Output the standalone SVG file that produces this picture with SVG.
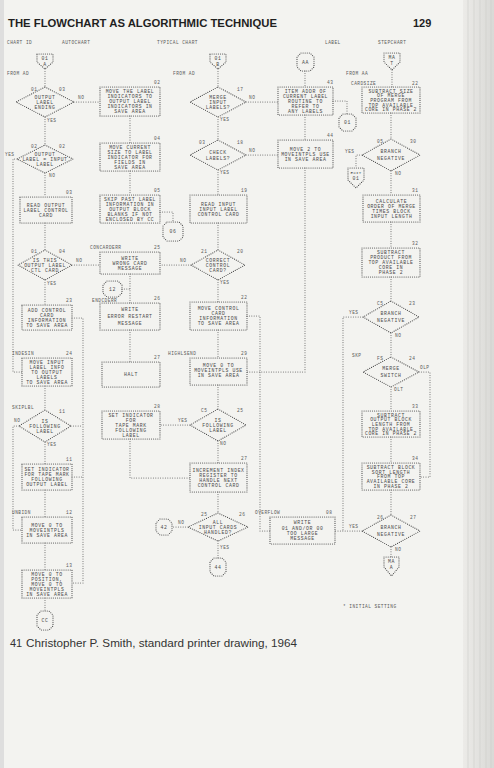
<svg xmlns="http://www.w3.org/2000/svg" width="494" height="768" viewBox="0 0 494 768">
<defs>
<style>
.bx{fill:none;stroke:#4f4f4f;stroke-width:1.2;stroke-dasharray:0 2.1;stroke-linecap:round}
.ln{fill:none;stroke:#5e5e5e;stroke-width:1.05;stroke-dasharray:0 2.4;stroke-linecap:round}
.t{font-family:"Liberation Mono","DejaVu Sans Mono",monospace;font-size:4.8px;letter-spacing:0.6px;fill:#4a4a4a;text-anchor:middle}
.s{font-family:"Liberation Mono","DejaVu Sans Mono",monospace;font-size:4.5px;letter-spacing:0.45px;fill:#5a5a5a}
.edge{stroke:#cdcdca;stroke-width:0.6}
</style>
<linearGradient id="pg" x1="0" y1="0" x2="1" y2="0">
<stop offset="0" stop-color="#ecebe8"/>
<stop offset="1" stop-color="#d9d9d6"/>
</linearGradient>
</defs>
<rect x="0" y="0" width="494" height="768" fill="#f3f3f0"/>
<rect x="0" y="0" width="4" height="768" fill="#dedede"/>
<rect x="463" y="0" width="31" height="768" fill="url(#pg)"/>
<g class="edge"><line x1="468" y1="0" x2="468" y2="768"/><line x1="474" y1="0" x2="474" y2="768"/><line x1="480" y1="0" x2="480" y2="768"/><line x1="486" y1="0" x2="486" y2="768"/><line x1="491" y1="0" x2="491" y2="768"/></g>

<g id="page-header">
<text x="8" y="27" font-family="Liberation Sans, Arial, sans-serif" font-weight="bold" font-size="11" fill="#1f1f1f" textLength="269" lengthAdjust="spacingAndGlyphs">THE FLOWCHART AS ALGORITHMIC TECHNIQUE</text>
<text x="413" y="27" font-family="Liberation Sans, Arial, sans-serif" font-weight="bold" font-size="11" fill="#1f1f1f">129</text>
<text class="s" x="7" y="44">CHART ID</text>
<text class="s" x="62" y="44">AUTOCHART</text>
<text class="s" x="157" y="44">TYPICAL CHART</text>
<text class="s" x="325" y="44">LABEL</text>
<text class="s" x="378" y="44">STEPCHART</text>
</g>

<g id="connectors">
<path class="ln" d="M45 69V87 M45 117V145 M74 102H100 M45 173V197 M17 159H13V372H22 M45 223V250 M72 265H100 M45 280V305 M72 318H83V583H72 M71 426H83 M72 477H83 M45 386V410 M19 426H13V530H22 M45 442V464 M45 490V517 M45 543V570 M45 598V611"/>
<path class="ln" d="M130 116V143 M130 171V195 M160 212H173V222 M130 274V303 M122 289H130 M130 330V362 M190 425H160 M130 439V478H190"/>
<path class="ln" d="M218 69V87 M246 102H278 M218 117V140 M246 155H278 M218 170V195 M218 223V250 M191 265H160 M218 280V302 M218 330V358 M247 316H260V531H270 M218 385V409 M218 441V463 M218 492V513 M188 527H172 M218 541V558"/>
<path class="ln" d="M305 71V87 M305 115V140 M333 101H347V114 M305 168V372H247"/>
<path class="ln" d="M392 70V87 M391 113V139 M362 155H356V168 M391 171V195 M391 222V248 M391 277V301 M363 317H343V531 M391 333V357 M419 372H430V477H420 M391 387V411 M391 437V463 M391 490V515 M362 531H335 M391 547V557"/>
</g>

<!-- column 1 -->
<g id="n-t1"><polygon class="bx" points="37,54 53,54 53,62 45,69 37,62"/><text class="t" x="45" y="60">01</text><text class="t" x="45" y="65.5">A</text></g>
<g id="lbl-fromad1"><text class="s" x="7" y="75">FROM AD</text></g>
<g id="n-d1"><polygon class="bx" points="45,87 74,102 45,117 16,102"/>
<text class="t" x="45" y="98.8">OUTPUT</text><text class="t" x="45" y="103.8">LABEL</text><text class="t" x="45" y="108.8">ENDING</text>
<text class="s" x="31" y="91">01</text><text class="s" x="59" y="91">03</text><text class="s" x="78" y="99">NO</text><text class="s" x="47" y="122">YES</text></g>
<g id="n-d2"><polygon class="bx" points="45,145 73,159 45,173 17,159"/>
<text class="t" x="45" y="155.8">OUTPUT</text><text class="t" x="45" y="160.8">LABEL = INPUT</text><text class="t" x="45" y="165.8">LABEL</text>
<text class="s" x="31" y="148">02</text><text class="s" x="59" y="148">02</text><text class="s" x="5" y="156">YES</text><text class="s" x="49" y="177">NO</text></g>
<g id="n-b03"><rect class="bx" x="20" y="197" width="52" height="26"/>
<text class="t" x="46" y="206.8">READ OUTPUT</text><text class="t" x="46" y="211.8">LABEL CONTROL</text><text class="t" x="46" y="216.8">CARD</text>
<text class="s" x="66" y="194">03</text></g>
<g id="n-d4"><polygon class="bx" points="45,250 72,265 45,280 18,265"/>
<text class="t" x="45" y="261.8">IS THIS</text><text class="t" x="45" y="266.8">OUTPUT LABEL</text><text class="t" x="45" y="271.8">CTL CARD</text>
<text class="s" x="31" y="253">01</text><text class="s" x="59" y="253">04</text><text class="s" x="76" y="262">NO</text><text class="s" x="47" y="285">YES</text></g>
<g id="n-b23"><rect class="bx" x="22" y="305" width="50" height="25"/>
<text class="t" x="47" y="311.8">ADD CONTROL</text><text class="t" x="47" y="316.8">CARD</text><text class="t" x="47" y="321.8">INFORMATION</text><text class="t" x="47" y="326.8">TO SAVE AREA</text>
<text class="s" x="66" y="302">23</text></g>
<g id="n-b24"><rect class="bx" x="22" y="358" width="50" height="28"/>
<text class="t" x="47" y="363.8">MOVE INPUT</text><text class="t" x="47" y="368.8">LABEL INFO</text><text class="t" x="47" y="373.8">TO OUTPUT</text><text class="t" x="47" y="378.8">LABELS</text><text class="t" x="47" y="383.8">TO SAVE AREA</text>
<text class="s" x="12" y="355">INDESIN</text><text class="s" x="66" y="355">24</text></g>
<g id="n-d3"><polygon class="bx" points="45,410 71,426 45,442 19,426"/>
<text class="t" x="45" y="422.8">IS</text><text class="t" x="45" y="427.8">FOLLOWING</text><text class="t" x="45" y="432.8">LABEL</text>
<text class="s" x="12" y="409">SKIPLBL</text><text class="s" x="59" y="413">11</text><text class="s" x="14" y="422">NO</text><text class="s" x="47" y="446">YES</text></g>
<g id="n-b11"><rect class="bx" x="22" y="464" width="50" height="26"/>
<text class="t" x="47" y="471.3">SET INDICATOR</text><text class="t" x="47" y="476.3">FOR TAPE MARK</text><text class="t" x="47" y="481.3">FOLLOWING</text><text class="t" x="47" y="486.3">OUTPUT LABEL</text>
<text class="s" x="66" y="461">11</text></g>
<g id="n-b12"><rect class="bx" x="22" y="517" width="50" height="26"/>
<text class="t" x="47" y="526.8">MOVE 0 TO</text><text class="t" x="47" y="531.8">MOVEINTPLS</text><text class="t" x="47" y="536.8">IN SAVE AREA</text>
<text class="s" x="12" y="514">UNBIDN</text><text class="s" x="66" y="514">12</text></g>
<g id="n-b13"><rect class="bx" x="22" y="570" width="50" height="28"/>
<text class="t" x="47" y="575.8">MOVE 0 TO</text><text class="t" x="47" y="580.8">POSITION,</text><text class="t" x="47" y="585.8">MOVE 0 TO</text><text class="t" x="47" y="590.8">MOVEINTPLS</text><text class="t" x="47" y="595.8">IN SAVE AREA</text>
<text class="s" x="66" y="567">13</text></g>
<g id="n-cc"><polygon class="bx" points="41,611 49,611 53,615 53,626 49,630 41,630 37,626 37,615"/><text class="t" x="45" y="622.3">CC</text></g>

<!-- column 2 -->
<g id="n-b02"><rect class="bx" x="100" y="87" width="60" height="29"/>
<text class="t" x="130" y="93.3">MOVE THE LABEL</text><text class="t" x="130" y="98.3">INDICATORS TO</text><text class="t" x="130" y="103.3">OUTPUT LABEL</text><text class="t" x="130" y="108.3">INDICATORS IN</text><text class="t" x="130" y="113.3">SAVE AREA</text>
<text class="s" x="154" y="84">02</text></g>
<g id="n-b04"><rect class="bx" x="100" y="143" width="60" height="28"/>
<text class="t" x="130" y="148.8">MOVE CURRENT</text><text class="t" x="130" y="153.8">SIZE TO LABEL</text><text class="t" x="130" y="158.8">INDICATOR FOR</text><text class="t" x="130" y="163.8">FIELDS IN</text><text class="t" x="130" y="168.8">SAVE AREA</text>
<text class="s" x="154" y="140">04</text></g>
<g id="n-b05"><rect class="bx" x="100" y="195" width="60" height="28"/>
<text class="t" x="130" y="200.8">SKIP PAST LABEL</text><text class="t" x="130" y="205.8">INFORMATION IN</text><text class="t" x="130" y="210.8">OUTPUT BLOCK</text><text class="t" x="130" y="215.8">BLANKS IF NOT</text><text class="t" x="130" y="220.8">ENCLOSED BY CC</text>
<text class="s" x="154" y="192">05</text></g>
<g id="n-c06"><polygon class="bx" points="167,222 179,222 183,226 183,237 179,241 167,241 163,237 163,226"/><text class="t" x="173" y="233.3">06</text></g>
<g id="n-b25"><rect class="bx" x="100" y="252" width="60" height="22"/>
<text class="t" x="130" y="259.8">WRITE</text><text class="t" x="130" y="264.8">WRONG CARD</text><text class="t" x="130" y="269.8">MESSAGE</text>
<text class="s" x="90" y="249">CONCARDERR</text><text class="s" x="154" y="249">25</text></g>
<g id="n-c12"><polygon class="bx" points="107,281 118,281 122,285 122,293 118,297 107,297 103,293 103,285"/><text class="t" x="112.5" y="290.8">12</text></g>
<g id="n-b26"><rect class="bx" x="100" y="303" width="60" height="27"/>
<text class="t" x="130" y="311.3">WRITE</text><text class="t" x="130" y="318.3">ERROR RESTART</text><text class="t" x="130" y="325.3">MESSAGE</text>
<text class="s" x="92" y="301.5">ENDCDERR</text><text class="s" x="154" y="300">26</text></g>
<g id="n-b27h"><rect class="bx" x="102" y="362" width="58" height="25"/>
<text class="t" x="131" y="376.3">HALT</text><text class="s" x="154" y="359">27</text></g>
<g id="n-b28"><rect class="bx" x="102" y="411" width="58" height="28"/>
<text class="t" x="131" y="416.8">SET INDICATOR</text><text class="t" x="131" y="421.8">FOR</text><text class="t" x="131" y="426.8">TAPE MARK</text><text class="t" x="131" y="431.8">FOLLOWING</text><text class="t" x="131" y="436.8">LABEL</text>
<text class="s" x="154" y="408">28</text></g>

<!-- column 3 -->
<g id="n-t3"><polygon class="bx" points="210,54 226,54 226,62 218,69 210,62"/><text class="t" x="218" y="60">01</text><text class="t" x="218" y="65.5">B</text></g>
<g id="lbl-fromad2"><text class="s" x="173" y="75">FROM AD</text></g>
<g id="n-d17"><polygon class="bx" points="218,87 246,102 218,117 190,102"/>
<text class="t" x="218" y="98.8">MERGE</text><text class="t" x="218" y="103.8">INPUT</text><text class="t" x="218" y="108.8">LABELS?</text>
<text class="s" x="237" y="91">17</text><text class="s" x="249" y="99">NO</text><text class="s" x="220" y="121">YES</text></g>
<g id="n-d18"><polygon class="bx" points="218,140 246,155 218,170 190,155"/>
<text class="t" x="218" y="153.8">CHECK</text><text class="t" x="218" y="159.8">LABELS?</text>
<text class="s" x="199" y="144">03</text><text class="s" x="237" y="144">18</text><text class="s" x="249" y="152">NO</text><text class="s" x="220" y="174">YES</text></g>
<g id="n-b19"><rect class="bx" x="190" y="195" width="57" height="28"/>
<text class="t" x="218.5" y="205.8">READ INPUT</text><text class="t" x="218.5" y="210.8">INPUT LABEL</text><text class="t" x="218.5" y="215.8">CONTROL CARD</text>
<text class="s" x="241" y="192">19</text></g>
<g id="n-d20"><polygon class="bx" points="218,250 245,265 218,280 191,265"/>
<text class="t" x="218" y="261.8">CORRECT</text><text class="t" x="218" y="266.8">CONTROL</text><text class="t" x="218" y="271.8">CARD?</text>
<text class="s" x="201" y="253">21</text><text class="s" x="237" y="253">20</text><text class="s" x="180" y="262">NO</text><text class="s" x="220" y="284">YES</text></g>
<g id="n-b22"><rect class="bx" x="190" y="302" width="57" height="28"/>
<text class="t" x="218.5" y="310.3">MOVE CONTROL</text><text class="t" x="218.5" y="315.3">CARD</text><text class="t" x="218.5" y="320.3">INFORMATION</text><text class="t" x="218.5" y="325.3">TO SAVE AREA</text>
<text class="s" x="241" y="299">22</text></g>
<g id="n-b29"><rect class="bx" x="190" y="358" width="57" height="27"/>
<text class="t" x="218.5" y="367.3">MOVE 0 TO</text><text class="t" x="218.5" y="372.3">MOVEINTPLS USE</text><text class="t" x="218.5" y="377.3">IN SAVE AREA</text>
<text class="s" x="168" y="355">HIGHLSEND</text><text class="s" x="241" y="355">29</text></g>
<g id="n-d25"><polygon class="bx" points="218,409 246,425 218,441 190,425"/>
<text class="t" x="218" y="421.8">IS</text><text class="t" x="218" y="426.8">FOLLOWING</text><text class="t" x="218" y="431.8">LABEL</text>
<text class="s" x="201" y="412">C5</text><text class="s" x="237" y="412">25</text><text class="s" x="178" y="422">YES</text><text class="s" x="220" y="445">NO</text></g>
<g id="n-b27"><rect class="bx" x="190" y="463" width="57" height="29"/>
<text class="t" x="218.5" y="471.8">INCREMENT INDEX</text><text class="t" x="218.5" y="476.8">REGISTER TO</text><text class="t" x="218.5" y="481.8">HANDLE NEXT</text><text class="t" x="218.5" y="486.8">CONTROL CARD</text>
<text class="s" x="241" y="460">27</text></g>
<g id="n-d26"><polygon class="bx" points="218,513 248,527 218,541 188,527"/>
<text class="t" x="218" y="523.8">ALL</text><text class="t" x="218" y="528.8">INPUT CARDS</text><text class="t" x="218" y="533.8">HANDLED?</text>
<text class="s" x="201" y="516">25</text><text class="s" x="239" y="516">26</text><text class="s" x="178" y="524">NO</text><text class="s" x="220" y="549">YES</text></g>
<g id="n-c42"><polygon class="bx" points="160,519 168,519 172,523 172,531 168,535 160,535 156,531 156,523"/><text class="t" x="164" y="528.8">42</text></g>
<g id="n-c44"><polygon class="bx" points="214,558 222,558 226,562 226,572 222,576 214,576 210,572 210,562"/><text class="t" x="218" y="568.8">44</text></g>

<!-- column 4 -->
<g id="n-aa"><polygon class="bx" points="301,53 310,53 314,57 314,67 310,71 301,71 297,67 297,57"/><text class="t" x="305.5" y="63.8">AA</text></g>
<g id="n-b43"><rect class="bx" x="278" y="87" width="55" height="28"/>
<text class="t" x="305.5" y="92.8">ITEM ADDR OF</text><text class="t" x="305.5" y="97.8">CURRENT LABEL</text><text class="t" x="305.5" y="102.8">ROUTINE TO</text><text class="t" x="305.5" y="107.8">REFER TO</text><text class="t" x="305.5" y="112.8">ANY LABELS</text>
<text class="s" x="327" y="84">43</text></g>
<g id="n-c01"><polygon class="bx" points="343,114 352,114 356,118 356,127 352,131 343,131 339,127 339,118"/><text class="t" x="347.5" y="124.3">01</text></g>
<g id="n-b44"><rect class="bx" x="278" y="140" width="55" height="28"/>
<text class="t" x="305.5" y="150.8">MOVE 2 TO</text><text class="t" x="305.5" y="155.8">MOVEINTPLS USE</text><text class="t" x="305.5" y="160.8">IN SAVE AREA</text>
<text class="s" x="327" y="137">44</text></g>
<g id="n-b08"><rect class="bx" x="270" y="517" width="65" height="27"/>
<text class="t" x="302.5" y="523.8">WRITE</text><text class="t" x="302.5" y="529.8">01 AND/OR 00</text><text class="t" x="302.5" y="534.8">TOO LARGE</text><text class="t" x="302.5" y="539.8">MESSAGE</text>
<text class="s" x="255" y="514">OVERFLOW</text><text class="s" x="326" y="514">08</text></g>

<!-- column 5 -->
<g id="n-t5"><polygon class="bx" points="384,53 400,53 400,62 392,70 384,62"/><text class="t" x="392" y="59">MA</text><text class="t" x="392" y="64.5">T</text></g>
<g id="lbl-fromaa"><text class="s" x="346" y="75">FROM AA</text></g>
<g id="n-b22b"><rect class="bx" x="362" y="87" width="58" height="26"/>
<text class="t" x="391" y="92.6">SUBTRACT SIZE</text><text class="t" x="391" y="97.3">OF MERGE</text><text class="t" x="391" y="102">PROGRAM FROM</text><text class="t" x="391" y="106.7">TOP AVAILABLE</text><text class="t" x="391" y="111.4">CORE IN PHASE 2</text>
<text class="s" x="351" y="85">CARDSIZE</text><text class="s" x="412" y="85">22</text></g>
<g id="n-d30"><polygon class="bx" points="391,139 420,155 391,171 362,155"/>
<text class="t" x="391" y="153.3">BRANCH</text><text class="t" x="391" y="159.8">NEGATIVE</text>
<text class="s" x="377" y="143">05</text><text class="s" x="410" y="143">30</text><text class="s" x="345" y="153">YES</text><text class="s" x="395" y="175">NO</text></g>
<g id="n-exit"><polygon class="bx" points="348,168 364,168 364,180 356,188 348,180"/><text class="t" x="356" y="174" style="font-size:4.2px;letter-spacing:0.2px">EXIT</text><text class="t" x="356" y="180">01</text></g>
<g id="n-b31"><rect class="bx" x="363" y="195" width="57" height="27"/>
<text class="t" x="391.5" y="202.8">CALCULATE</text><text class="t" x="391.5" y="207.8">ORDER OF MERGE</text><text class="t" x="391.5" y="212.8">TIMES BLOCK</text><text class="t" x="391.5" y="217.8">INPUT LENGTH</text>
<text class="s" x="412" y="192">31</text></g>
<g id="n-b32"><rect class="bx" x="362" y="248" width="58" height="29"/>
<text class="t" x="391" y="254.3">SUBTRACT</text><text class="t" x="391" y="259.3">PRODUCT FROM</text><text class="t" x="391" y="264.3">TOP AVAILABLE</text><text class="t" x="391" y="269.3">CORE IN</text><text class="t" x="391" y="274.3">PHASE 2</text>
<text class="s" x="412" y="245">32</text></g>
<g id="n-d23"><polygon class="bx" points="391,301 419,317 391,333 363,317"/>
<text class="t" x="391" y="315">BRANCH</text><text class="t" x="391" y="321.5">NEGATIVE</text>
<text class="s" x="377" y="305">C5</text><text class="s" x="409" y="305">23</text><text class="s" x="349" y="314">YES</text><text class="s" x="395" y="337">NO</text></g>
<g id="n-d24"><polygon class="bx" points="391,357 419,372 391,387 363,372"/>
<text class="t" x="391" y="370">MERGE</text><text class="t" x="391" y="376.5">SWITCH</text>
<text class="s" x="352" y="357">SKP</text><text class="s" x="377" y="360">FS</text><text class="s" x="409" y="360">24</text><text class="s" x="420" y="369">OLP</text><text class="s" x="394" y="391">OLT</text></g>
<g id="n-b33"><rect class="bx" x="362" y="411" width="58" height="26"/>
<text class="t" x="391" y="416.6">SUBTRACT</text><text class="t" x="391" y="421.3">OUTPUT BLOCK</text><text class="t" x="391" y="426">LENGTH FROM</text><text class="t" x="391" y="430.7">TOP AVAILABLE</text><text class="t" x="391" y="435.4">CORE IN PHASE 2</text>
<text class="s" x="412" y="408">33</text></g>
<g id="n-b34"><rect class="bx" x="362" y="463" width="58" height="27"/>
<text class="t" x="391" y="469">SUBTRACT BLOCK</text><text class="t" x="391" y="473.7">SORT LENGTH</text><text class="t" x="391" y="478.4">FROM TOP</text><text class="t" x="391" y="483.1">AVAILABLE CORE</text><text class="t" x="391" y="487.8">IN PHASE 2</text>
<text class="s" x="412" y="460">34</text></g>
<g id="n-d27"><polygon class="bx" points="391,515 420,531 391,547 362,531"/>
<text class="t" x="391" y="529">BRANCH</text><text class="t" x="391" y="535.5">NEGATIVE</text>
<text class="s" x="377" y="519">26</text><text class="s" x="410" y="519">27</text><text class="s" x="349" y="528">YES</text><text class="s" x="395" y="551">NO</text></g>
<g id="n-t6"><polygon class="bx" points="384,557 399,557 399,567 391.5,576 384,567"/><text class="t" x="391.5" y="563">MA</text><text class="t" x="391.5" y="568.5">A</text></g>
<g id="lbl-initial"><text class="s" x="343" y="608">* INITIAL SETTING</text></g>

<g id="caption">
<text x="10" y="647" font-family="Liberation Sans, Arial, sans-serif" font-size="11" fill="#333">41</text>
<text x="26" y="647" font-family="Liberation Sans, Arial, sans-serif" font-size="11" fill="#333" textLength="271" lengthAdjust="spacingAndGlyphs">Christopher P. Smith, standard printer drawing, 1964</text>
</g>
</svg>
